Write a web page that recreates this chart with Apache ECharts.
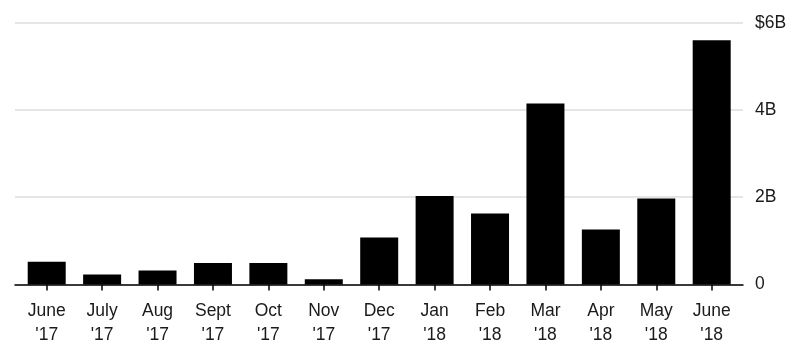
<!DOCTYPE html>
<html><head><meta charset="utf-8">
<script src="https://cdn.jsdelivr.net/npm/echarts@6/dist/echarts.min.js"></script>
<style>html,body{margin:0;padding:0;background:#fff}#c{width:799px;height:360px}</style>
</head><body><div id="c"></div>
<script>
const categories = ["June\n'17","July\n'17","Aug\n'17","Sept\n'17","Oct\n'17","Nov\n'17","Dec\n'17","Jan\n'18","Feb\n'18","Mar\n'18","Apr\n'18","May\n'18","June\n'18"];
const values = [0.52, 0.23, 0.32, 0.49, 0.49, 0.12, 1.08, 2.03, 1.63, 4.15, 1.26, 1.97, 5.60];
const yTicks = {0: "0", 2: "2B", 4: "4B", 6: "$6B"};

const chart = echarts.init(document.getElementById('c'), null, {renderer: 'canvas'});
const font = 'Liberation Sans, Arial, Helvetica, sans-serif';
chart.setOption({
  animation: false,
  grid: [
    {left: 15, right: 56, top: 22.7, bottom: 75.5},
    {left: 19, right: 59.6, top: 22.7, bottom: 75.5}
  ],
  xAxis: [
    {gridIndex: 0, type: 'value', min: 0, max: 1, axisLine: {show: true, onZero: false, lineStyle: {color: '#000', width: 1.5}},
     axisTick: {show: false}, axisLabel: {show: false}, splitLine: {show: false}},
    {gridIndex: 1, type: 'category', data: categories, boundaryGap: true,
     axisLine: {show: false},
     axisTick: {show: true, alignWithLabel: true, length: 6, lineStyle: {color: '#000', width: 1.5}},
     axisLabel: {color: '#1a1a1a', fontFamily: font, fontSize: 17.5, lineHeight: 24, margin: 14.5, interval: 0}}
  ],
  yAxis: [
    {gridIndex: 0, type: 'value', position: 'right', min: 0, max: 6, interval: 2,
     axisLine: {show: false}, axisTick: {show: false},
     axisLabel: {color: '#1a1a1a', fontFamily: font, fontSize: 17.5, margin: 12, formatter: v => yTicks[v]},
     splitLine: {show: true, lineStyle: {color: '#dcdcdc', width: 1.5}}},
    {gridIndex: 1, type: 'value', min: 0, max: 6, interval: 2, show: false, splitLine: {show: false}}
  ],
  series: [{
    type: 'bar', xAxisIndex: 1, yAxisIndex: 1, data: values, barWidth: 38,
    itemStyle: {color: '#000'}, z: 3
  }]
});
</script></body></html>
